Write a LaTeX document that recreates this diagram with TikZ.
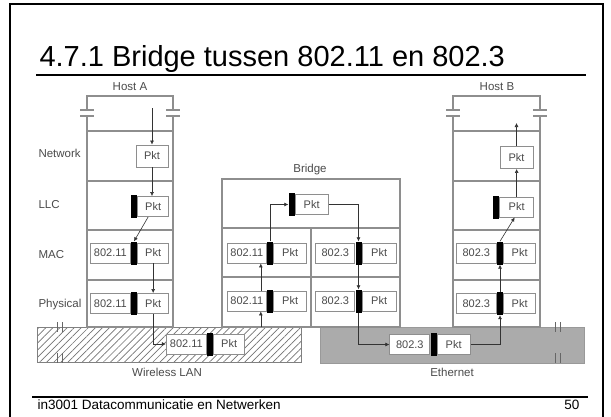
\documentclass[tikz,border=0pt]{standalone}
\usepackage{fontspec}
\setmainfont{Liberation Sans}
\usetikzlibrary{arrows.meta,positioning,patterns.meta}
\definecolor{Wire}{HTML}{8E8E8E}
\definecolor{Label}{HTML}{4A4A4A}
\definecolor{Lan}{HTML}{ABABAB}
\tikzset{
  pkt/.style={
    draw=Wire, line width=0.9pt, fill=white, minimum width=#1,
    minimum height=20pt, inner sep=0pt, text=Label,
    font=\fontsize{11}{12}\selectfont
  },
  pkt/.default=32pt,
  hdr/.style={pkt=40pt},
  bar/.style={fill=black, minimum width=6pt, minimum height=23pt, inner sep=0pt},
  layer/.style={anchor=west, text=Label, font=\fontsize{11.5}{13}\selectfont},
  netlbl/.style={text=Label, font=\fontsize{11.5}{13}\selectfont},
  wire/.style={draw=Wire, line width=1.1pt},
  flow/.style={-{Latex[length=4pt,width=4pt]}, draw=black!80, line width=0.6pt},
  wlanarea/.style={
    draw=black!50, pattern={Lines[angle=45,distance=5pt,line width=0.7pt]},
    pattern color=black!55, minimum width=264pt, minimum height=35pt
  },
  etharea/.style={fill=Lan, draw=black!40, minimum width=264pt, minimum height=36pt}
}

\begin{document}
\begin{tikzpicture}[x=1pt,y=-1pt]
  \useasboundingbox (0,0) rectangle (611,416);
  \draw[line width=1.5pt] (10,4) rectangle (603,440);
  \node[anchor=base west,font=\fontsize{29}{34}\selectfont] (title) at (36,66)
    {4.7.1 Bridge tussen 802.11 en 802.3};
  \draw[line width=1.2pt] (36,75) -- (586,75);

  % networks
  \node[wlanarea] (wlan) at (169,344.5) {};
  \node[etharea] (eth) at (452,345) {};
  \node[netlbl] (wlanlbl) at (167,372) {Wireless LAN};
  \node[netlbl] (ethlbl) at (452,372) {Ethernet};
  \foreach \x in {60,558}
    \foreach \y in {327,358}
      \draw[draw=black!60, line width=0.8pt] (\x-2.5,\y-5) -- (\x-2.5,\y+5)
        (\x+2.5,\y-5) -- (\x+2.5,\y+5);

  % hosts and bridge
  \draw[wire] (87,131) -- (87,116) (87,110) -- (87,96) -- (173,96) -- (173,110)
    (173,116) -- (173,131);
  \draw[wire] (453,131) -- (453,116) (453,110) -- (453,96) -- (540,96) -- (540,110)
    (540,116) -- (540,131);
  \foreach \x in {87,173,453,540}
    \draw[wire] (\x-7,110) -- (\x+7,110) (\x-7,116) -- (\x+7,116);
  \draw[wire] (87,131) rectangle (173,327);
  \draw[wire] (453,131) rectangle (540,327);
  \foreach \y in {181,230,280} {
    \draw[wire] (87,\y) -- (173,\y);
    \draw[wire] (453,\y) -- (540,\y);
  }
  \draw[wire] (222,179) rectangle (400,327);
  \draw[wire] (222,228) -- (400,228) (222,277) -- (400,277) (311,228) -- (311,327);
  \node[netlbl] (hostA) at (130,87) {Host A};
  \node[netlbl] (hostB) at (497,87) {Host B};
  \node[netlbl] (bridge) at (310,170) {Bridge};

  \node[layer] (lnet) at (35,153) {Network};
  \node[layer] (lllc) at (35,205) {LLC};
  \node[layer] (lmac) at (35,255) {MAC};
  \node[layer] (lphy) at (35,305) {Physical};

  % host A
  \node[pkt,minimum height=22pt] (netA) at (152,156) {Pkt};
  \node[bar] (llcAbar) at (134,206.5) {};
  \node[pkt=31pt,right=0pt of llcAbar] (llcApkt) {Pkt};
  \node[bar] (macAbar) at (134,253) {};
  \node[hdr,left=0pt of macAbar] (macAhd) {802.11};
  \node[pkt=31pt,right=0pt of macAbar] (macApkt) {Pkt};
  \node[bar] (phyAbar) at (134,303.5) {};
  \node[hdr,left=0pt of phyAbar] (phyAhd) {802.11};
  \node[pkt=31pt,right=0pt of phyAbar] (phyApkt) {Pkt};

  % frames on the wire
  \node[bar] (wlbar) at (210,344) {};
  \node[hdr,left=0pt of wlbar] (wlhd) {802.11};
  \node[pkt=31pt,right=0pt of wlbar] (wlpkt) {Pkt};
  \node[bar] (ethbar) at (433.5,344.5) {};
  \node[hdr,left=0pt of ethbar] (ethhd) {802.3};
  \node[pkt=33pt,right=0pt of ethbar] (ethpkt) {Pkt};

  % bridge
  \node[bar] (brbar) at (291.5,204.5) {};
  \node[pkt=33pt,right=0pt of brbar] (brpkt) {Pkt};
  \node[bar] (macLbar) at (270,253) {};
  \node[hdr,minimum width=39pt,left=0pt of macLbar] (macLhd) {802.11};
  \node[pkt=33pt,right=0pt of macLbar] (macLpkt) {Pkt};
  \node[bar] (phyLbar) at (270,301) {};
  \node[hdr,minimum width=39pt,left=0pt of phyLbar] (phyLhd) {802.11};
  \node[pkt=33pt,right=0pt of phyLbar] (phyLpkt) {Pkt};
  \node[bar] (macRbar) at (358.5,253) {};
  \node[hdr,minimum width=39pt,left=0pt of macRbar] (macRhd) {802.3};
  \node[pkt=34pt,right=0pt of macRbar] (macRpkt) {Pkt};
  \node[bar] (phyRbar) at (358.5,301) {};
  \node[hdr,minimum width=39pt,left=0pt of phyRbar] (phyRhd) {802.3};
  \node[pkt=34pt,right=0pt of phyRbar] (phyRpkt) {Pkt};

  % host B
  \node[pkt=33pt,minimum height=22pt] (netB) at (516.5,157.5) {Pkt};
  \node[bar] (llcBbar) at (496,207) {};
  \node[pkt=34pt,right=0pt of llcBbar] (llcBpkt) {Pkt};
  \node[bar] (macBbar) at (500,253) {};
  \node[hdr,left=0pt of macBbar] (macBhd) {802.3};
  \node[pkt,right=0pt of macBbar] (macBpkt) {Pkt};
  \node[bar] (phyBbar) at (500,303.5) {};
  \node[hdr,left=0pt of phyBbar] (phyBhd) {802.3};
  \node[pkt,right=0pt of phyBbar] (phyBpkt) {Pkt};

  % packet path
  \coordinate (inA) at (152,108);
  \coordinate (outB) at (516.5,123);
  \coordinate (brin) at ([xshift=-6pt]phyLhd.south east);
  \draw[flow] (inA) -- (netA.north);
  \draw[flow] (netA.south) -- (netA.south |- llcApkt.north);
  \draw[flow] ([xshift=-5pt]llcApkt.south) -- (macAbar.north);
  \draw[flow] (macApkt.south) -- (phyApkt.north);
  \draw[flow] (phyApkt.south) |- (wlhd.west);
  \draw[flow] (brin |- wlan.north) -- (brin);
  \draw[flow] ([xshift=-6pt]phyLhd.north east) -- ([xshift=-6pt]macLhd.south east);
  \draw[flow] (macLbar.north) |- (brbar.west);
  \draw[flow] (brpkt.east) -| (macRbar.north);
  \draw[flow] (macRbar.south) -- (phyRbar.north);
  \draw[flow] (phyRbar.south) |- (ethhd.west);
  \draw[flow] (ethpkt.east) -| (phyBbar.south);
  \draw[flow] (phyBbar.north) -- (macBbar.south);
  \draw[flow] (macBbar.north) -- ([xshift=-2pt]llcBpkt.south);
  \draw[flow] (llcBpkt.north) -- (llcBpkt.north |- netB.south);
  \draw[flow] (netB.north) -- (outB);

  \node[anchor=base west,font=\fontsize{13.5}{16}\selectfont] (foot) at (34,409)
    {in3001 Datacommunicatie en Netwerken};
  \node[anchor=base east,font=\fontsize{13.5}{16}\selectfont] (page) at (583,409) {50};
  \draw[line width=1.5pt] (32,397) -- (588,397);
\end{tikzpicture}
\end{document}
